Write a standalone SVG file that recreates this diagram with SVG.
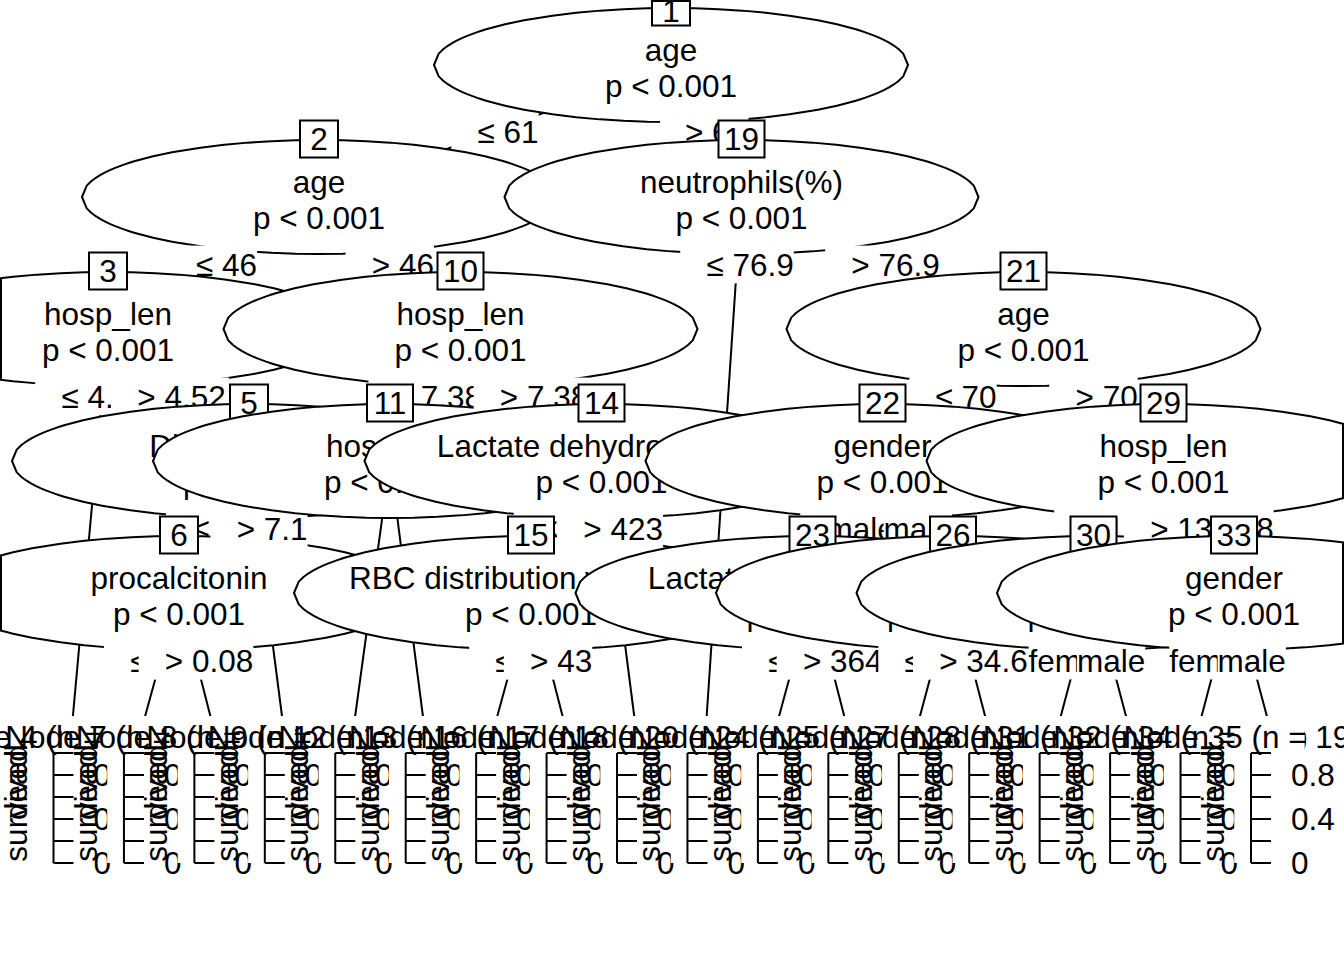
<svg xmlns="http://www.w3.org/2000/svg" xmlns:xlink="http://www.w3.org/1999/xlink" width="1344" height="960" viewBox="0 0 1344 960">
<style>
  text { font-family: "Liberation Sans", Arial, sans-serif; font-size: 31.5px; fill: #000; }
  .mid { text-anchor: middle; }
  .edges line { stroke: #000; stroke-width: 2; }
  .ell { fill: #fff; stroke: #000; stroke-width: 2; vector-effect: non-scaling-stroke; stroke-linejoin: round; }
  .idbox { fill: #fff; stroke: #000; stroke-width: 2; }
  .clipedge { stroke: #000; stroke-width: 2; }
  .edge-label rect { fill: #fff; stroke: none; }
  .panel-bg { fill: #fff; stroke: none; }
  .axis { stroke: #000; stroke-width: 2; fill: none; }
</style>
<defs>
  <!-- split-node outline: sqrt(x(1-x)) sampled finely near the tips, coarsely in the middle -->
  <polygon id="ell" class="ell" points="-1,0 -.98,-.199 -.96,-.28 -.94,-.3412 -.92,-.3919 -.9,-.4359 -.88,-.475 -.86,-.5103 -.84,-.5426 -.82,-.5724 -.8,-.6 -.78,-.6258 -.76,-.6499 -.74,-.6726 -.72,-.694 -.7,-.7141 -.68,-.7332 -.66,-.7513 -.64,-.7684 -.62,-.7846 -.6,-.8 -.5,-.866 -.4,-.9165 -.3,-.9539 -.2,-.9798 -.1,-.995 0,-1 .1,-.995 .2,-.9798 .3,-.9539 .4,-.9165 .5,-.866 .6,-.8 .62,-.7846 .64,-.7684 .66,-.7513 .68,-.7332 .7,-.7141 .72,-.694 .74,-.6726 .76,-.6499 .78,-.6258 .8,-.6 .82,-.5724 .84,-.5426 .86,-.5103 .88,-.475 .9,-.4359 .92,-.3919 .94,-.3412 .96,-.28 .98,-.199 1,0 .98,.199 .96,.28 .94,.3412 .92,.3919 .9,.4359 .88,.475 .86,.5103 .84,.5426 .82,.5724 .8,.6 .78,.6258 .76,.6499 .74,.6726 .72,.694 .7,.7141 .68,.7332 .66,.7513 .64,.7684 .62,.7846 .6,.8 .5,.866 .4,.9165 .3,.9539 .2,.9798 .1,.995 0,1 -.1,.995 -.2,.9798 -.3,.9539 -.4,.9165 -.5,.866 -.6,.8 -.62,.7846 -.64,.7684 -.66,.7513 -.68,.7332 -.7,.7141 -.72,.694 -.74,.6726 -.76,.6499 -.78,.6258 -.8,.6 -.82,.5724 -.84,.5426 -.86,.5103 -.88,.475 -.9,.4359 -.92,.3919 -.94,.3412 -.96,.28 -.98,.199"/>
  <!-- terminal bar panel squeezed to zero width: frame, right axis, tick labels, level names -->
  <g id="plot">
    <path class="axis" d="M0,753V863M0,753h20M0,775h20M0,797h20M0,819h20M0,841h20M0,863h20"/>
    <text x="40" y="786">0.8</text>
    <text x="40" y="830">0.4</text>
    <text x="40" y="874">0</text>
    <text class="mid" transform="translate(-27,803) rotate(-90)">survived</text>
    <text class="mid" transform="translate(-27,785) rotate(-90)">dead</text>
  </g>
</defs>

<rect width="1344" height="960" fill="#fff"/>

<!-- connectors: parent centre to child centre (terminal nodes at y=726) -->
<g id="edges" class="edges">
  <line x1="671" y1="65" x2="319" y2="197"/>
  <line x1="671" y1="65" x2="741.5" y2="197"/>
  <line x1="319" y1="197" x2="108" y2="329"/>
  <line x1="319" y1="197" x2="460.5" y2="329"/>
  <line x1="108" y1="329" x2="72" y2="726"/>
  <line x1="108" y1="329" x2="249" y2="461"/>
  <line x1="249" y1="461" x2="179" y2="593"/>
  <line x1="249" y1="461" x2="283.3" y2="726"/>
  <line x1="179" y1="593" x2="142.4" y2="726"/>
  <line x1="179" y1="593" x2="212.9" y2="726"/>
  <line x1="460.5" y1="329" x2="390" y2="461"/>
  <line x1="460.5" y1="329" x2="601.5" y2="461"/>
  <line x1="390" y1="461" x2="353.8" y2="726"/>
  <line x1="390" y1="461" x2="424.2" y2="726"/>
  <line x1="601.5" y1="461" x2="531" y2="593"/>
  <line x1="601.5" y1="461" x2="635.5" y2="726"/>
  <line x1="531" y1="593" x2="494.6" y2="726"/>
  <line x1="531" y1="593" x2="565.1" y2="726"/>
  <line x1="741.5" y1="197" x2="706" y2="726"/>
  <line x1="741.5" y1="197" x2="1023.5" y2="329"/>
  <line x1="1023.5" y1="329" x2="882.5" y2="461"/>
  <line x1="1023.5" y1="329" x2="1163.5" y2="461"/>
  <line x1="882.5" y1="461" x2="812.5" y2="593"/>
  <line x1="882.5" y1="461" x2="953" y2="593"/>
  <line x1="812.5" y1="593" x2="776.4" y2="726"/>
  <line x1="812.5" y1="593" x2="846.8" y2="726"/>
  <line x1="953" y1="593" x2="917.3" y2="726"/>
  <line x1="953" y1="593" x2="987.7" y2="726"/>
  <line x1="1163.5" y1="461" x2="1093.5" y2="593"/>
  <line x1="1163.5" y1="461" x2="1234" y2="593"/>
  <line x1="1093.5" y1="593" x2="1058.2" y2="726"/>
  <line x1="1093.5" y1="593" x2="1128.6" y2="726"/>
  <line x1="1234" y1="593" x2="1199" y2="726"/>
  <line x1="1234" y1="593" x2="1269.5" y2="726"/>
</g>

<!-- nodes and split labels, painted depth first -->
<g id="node-1">
  <use href="#ell" transform="translate(671 65) scale(237 57)"/>
  <text class="mid" x="671" y="61">age</text>
  <text class="mid" x="671" y="97">p &lt; 0.001</text>
  <rect class="idbox" x="652" y="1" width="38" height="24.5"/>
  <text class="mid" x="671" y="22">1</text>
</g>
<g class="edge-label"><rect x="451.35" y="113.1" width="87.3" height="37.8"/><text class="mid" x="508.1" y="143">≤ 61</text></g>

<g id="node-2">
  <use href="#ell" transform="translate(319 197) scale(237 57)"/>
  <text class="mid" x="319" y="193">age</text>
  <text class="mid" x="319" y="229">p &lt; 0.001</text>
  <rect class="idbox" x="300" y="120.5" width="38" height="37"/>
  <text class="mid" x="319" y="150">2</text>
</g>
<g class="edge-label"><rect x="169.85" y="245.6" width="87.3" height="37.8"/><text class="mid" x="226.6" y="275.5">≤ 46</text></g>

<g id="node-3">
  <use href="#ell" transform="translate(108 329) scale(237 57)"/>
  <line class="clipedge" x1="1" y1="278.4" x2="1" y2="379.6"/>
  <text class="mid" x="108" y="325">hosp_len</text>
  <text class="mid" x="108" y="361">p &lt; 0.001</text>
  <rect class="idbox" x="89" y="252.5" width="38" height="37"/>
  <text class="mid" x="108" y="282">3</text>
</g>
<g class="edge-label"><rect x="35.2" y="377.6" width="113.6" height="37.8"/><text class="mid" x="105.1" y="407.5">≤ 4.52</text></g>

<g id="node-4" class="terminal">
  <rect class="panel-bg" x="36.78" y="716" width="70.44" height="147"/>
  <text class="mid" x="53.5" y="748">Node 4 (n = 112)</text>
  <use href="#plot" x="53.5"/>
</g>
<g class="edge-label"><rect x="111.15" y="377.6" width="118" height="37.8"/><text class="mid" x="181.6" y="407.5">&gt; 4.52</text></g>

<g id="node-5">
  <use href="#ell" transform="translate(249 461) scale(237 57)"/>
  <text class="mid" x="249" y="457">Direct bilirubin</text>
  <text class="mid" x="249" y="493">p &lt; 0.001</text>
  <rect class="idbox" x="230" y="384.5" width="38" height="37"/>
  <text class="mid" x="249" y="414">5</text>
</g>
<g class="edge-label"><rect x="165.95" y="509.6" width="96.1" height="37.8"/><text class="mid" x="227.1" y="539.5">≤ 7.1</text></g>

<g id="node-6">
  <use href="#ell" transform="translate(179 593) scale(237 57)"/>
  <line class="clipedge" x1="1" y1="555.7" x2="1" y2="630.3"/>
  <text class="mid" x="179" y="589">procalcitonin</text>
  <text class="mid" x="179" y="625">p &lt; 0.001</text>
  <rect class="idbox" x="160" y="516.5" width="38" height="37"/>
  <text class="mid" x="179" y="546">6</text>
</g>
<g class="edge-label"><rect x="103.95" y="641.6" width="113.6" height="37.8"/><text class="mid" x="173.85" y="671.5">≤ 0.08</text></g>

<g id="node-7" class="terminal">
  <rect class="panel-bg" x="107.22" y="716" width="70.44" height="147"/>
  <text class="mid" x="123.94" y="748">Node 7 (n = 145)</text>
  <use href="#plot" x="123.94"/>
</g>
<g class="edge-label"><rect x="138.65" y="641.6" width="114.7" height="37.8"/><text class="mid" x="209.1" y="671.5">&gt; 0.08</text></g>

<g id="node-8" class="terminal">
  <rect class="panel-bg" x="177.66" y="716" width="70.44" height="147"/>
  <text class="mid" x="194.38" y="748">Node 8 (n = 101)</text>
  <use href="#plot" x="194.38"/>
</g>
<g class="edge-label"><rect x="210.4" y="509.6" width="97.2" height="37.8"/><text class="mid" x="272.1" y="539.5">&gt; 7.1</text></g>

<g id="node-9" class="terminal">
  <rect class="panel-bg" x="248.1" y="716" width="70.44" height="147"/>
  <text class="mid" x="264.82" y="748">Node 9 (n = 206)</text>
  <use href="#plot" x="264.82"/>
</g>
<g class="edge-label"><rect x="345.5" y="245.6" width="88.5" height="37.8"/><text class="mid" x="402.85" y="275.5">&gt; 46</text></g>

<g id="node-10">
  <use href="#ell" transform="translate(460.5 329) scale(237 57)"/>
  <text class="mid" x="460.5" y="325">hosp_len</text>
  <text class="mid" x="460.5" y="361">p &lt; 0.001</text>
  <rect class="idbox" x="437.5" y="252.5" width="46" height="37"/>
  <text class="mid" x="460.5" y="282">10</text>
</g>
<g class="edge-label"><rect x="368.45" y="377.6" width="113.6" height="37.8"/><text class="mid" x="438.35" y="407.5">≤ 7.38</text></g>

<g id="node-11">
  <use href="#ell" transform="translate(390 461) scale(237 57)"/>
  <text class="mid" x="390" y="457">hosp_len</text>
  <text class="mid" x="390" y="493">p &lt; 0.001</text>
  <rect class="idbox" x="367" y="384.5" width="46" height="37"/>
  <text class="mid" x="390" y="414">11</text>
</g>

<g id="node-12" class="terminal">
  <rect class="panel-bg" x="318.54" y="716" width="70.44" height="147"/>
  <text class="mid" x="335.26" y="748">Node 12 (n = 133)</text>
  <use href="#plot" x="335.26"/>
</g>
<g id="node-13" class="terminal">
  <rect class="panel-bg" x="388.98" y="716" width="70.44" height="147"/>
  <text class="mid" x="405.7" y="748">Node 13 (n = 178)</text>
  <use href="#plot" x="405.7"/>
</g>
<g class="edge-label"><rect x="473.65" y="377.6" width="114.7" height="37.8"/><text class="mid" x="544.1" y="407.5">&gt; 7.38</text></g>

<g id="node-14">
  <use href="#ell" transform="translate(601.5 461) scale(237 57)"/>
  <text class="mid" x="601.5" y="457">Lactate dehydrogenase</text>
  <text class="mid" x="601.5" y="493">p &lt; 0.001</text>
  <rect class="idbox" x="578.5" y="384.5" width="46" height="37"/>
  <text class="mid" x="601.5" y="414">14</text>
</g>
<g class="edge-label"><rect x="513.8" y="509.6" width="104.9" height="37.8"/><text class="mid" x="579.35" y="539.5">≤ 423</text></g>

<g id="node-15">
  <use href="#ell" transform="translate(531 593) scale(237 57)"/>
  <text class="mid" x="531" y="589">RBC distribution width-SD</text>
  <text class="mid" x="531" y="625">p &lt; 0.001</text>
  <rect class="idbox" x="508" y="516.5" width="46" height="37"/>
  <text class="mid" x="531" y="546">15</text>
</g>
<g class="edge-label"><rect x="469.15" y="641.6" width="87.3" height="37.8"/><text class="mid" x="525.9" y="671.5">≤ 43</text></g>

<g id="node-16" class="terminal">
  <rect class="panel-bg" x="459.42" y="716" width="70.44" height="147"/>
  <text class="mid" x="476.14" y="748">Node 16 (n = 122)</text>
  <use href="#plot" x="476.14"/>
</g>
<g class="edge-label"><rect x="503.8" y="641.6" width="88.5" height="37.8"/><text class="mid" x="561.15" y="671.5">&gt; 43</text></g>

<g id="node-17" class="terminal">
  <rect class="panel-bg" x="529.86" y="716" width="70.44" height="147"/>
  <text class="mid" x="546.58" y="748">Node 17 (n = 119)</text>
  <use href="#plot" x="546.58"/>
</g>
<g class="edge-label"><rect x="557.1" y="509.6" width="106" height="37.8"/><text class="mid" x="623.2" y="539.5">&gt; 423</text></g>

<g id="node-18" class="terminal">
  <rect class="panel-bg" x="600.3" y="716" width="70.44" height="147"/>
  <text class="mid" x="617.02" y="748">Node 18 (n = 140)</text>
  <use href="#plot" x="617.02"/>
</g>
<g class="edge-label"><rect x="660" y="113.1" width="88.5" height="37.8"/><text class="mid" x="716" y="143">&gt; 61</text></g>

<g id="node-19">
  <use href="#ell" transform="translate(741.5 197) scale(237 57)"/>
  <text class="mid" x="741.5" y="193">neutrophils(%)</text>
  <text class="mid" x="741.5" y="229">p &lt; 0.001</text>
  <rect class="idbox" x="718.5" y="120.5" width="46" height="37"/>
  <text class="mid" x="741.5" y="150">19</text>
</g>
<g class="edge-label"><rect x="680.2" y="245.6" width="113.6" height="37.8"/><text class="mid" x="750.1" y="275.5">≤ 76.9</text></g>

<g id="node-20" class="terminal">
  <rect class="panel-bg" x="670.74" y="716" width="70.44" height="147"/>
  <text class="mid" x="687.46" y="748">Node 20 (n = 163)</text>
  <use href="#plot" x="687.46"/>
</g>
<g class="edge-label"><rect x="825.15" y="245.6" width="114.7" height="37.8"/><text class="mid" x="895.6" y="275.5">&gt; 76.9</text></g>

<g id="node-21">
  <use href="#ell" transform="translate(1023.5 329) scale(237 57)"/>
  <text class="mid" x="1023.5" y="325">age</text>
  <text class="mid" x="1023.5" y="361">p &lt; 0.001</text>
  <rect class="idbox" x="1000.5" y="252.5" width="46" height="37"/>
  <text class="mid" x="1023.5" y="282">21</text>
</g>
<g class="edge-label"><rect x="909.35" y="377.6" width="87.3" height="37.8"/><text class="mid" x="966.1" y="407.5">≤ 70</text></g>

<g id="node-22">
  <use href="#ell" transform="translate(882.5 461) scale(237 57)"/>
  <text class="mid" x="882.5" y="457">gender</text>
  <text class="mid" x="882.5" y="493">p &lt; 0.001</text>
  <rect class="idbox" x="859.5" y="384.5" width="46" height="37"/>
  <text class="mid" x="882.5" y="414">22</text>
</g>
<g class="edge-label"><rect x="800.25" y="509.6" width="94.5" height="37.8"/><text class="mid" x="847.5" y="539.5">female</text></g>

<g id="node-23">
  <use href="#ell" transform="translate(812.5 593) scale(237 57)"/>
  <text class="mid" x="812.5" y="589">Lactate dehydrogenase</text>
  <text class="mid" x="812.5" y="625">p &lt; 0.001</text>
  <rect class="idbox" x="789.5" y="516.5" width="46" height="37"/>
  <text class="mid" x="812.5" y="546">23</text>
</g>
<g class="edge-label"><rect x="742" y="641.6" width="104.9" height="37.8"/><text class="mid" x="807.55" y="671.5">≤ 364</text></g>

<g id="node-24" class="terminal">
  <rect class="panel-bg" x="741.18" y="716" width="70.44" height="147"/>
  <text class="mid" x="757.9" y="748">Node 24 (n = 105)</text>
  <use href="#plot" x="757.9"/>
</g>
<g class="edge-label"><rect x="776.65" y="641.6" width="106" height="37.8"/><text class="mid" x="842.75" y="671.5">&gt; 364</text></g>

<g id="node-25" class="terminal">
  <rect class="panel-bg" x="811.62" y="716" width="70.44" height="147"/>
  <text class="mid" x="828.34" y="748">Node 25 (n = 127)</text>
  <use href="#plot" x="828.34"/>
</g>
<g class="edge-label"><rect x="883.6" y="509.6" width="68.3" height="37.8"/><text class="mid" x="917.75" y="539.5">male</text></g>

<g id="node-26">
  <use href="#ell" transform="translate(953 593) scale(237 57)"/>
  <text class="mid" x="953" y="625">p &lt; 0.001</text>
  <rect class="idbox" x="930" y="516.5" width="46" height="37"/>
  <text class="mid" x="953" y="546">26</text>
</g>
<g class="edge-label"><rect x="878.35" y="641.6" width="113.6" height="37.8"/><text class="mid" x="948.25" y="671.5">≤ 34.6</text></g>

<g id="node-27" class="terminal">
  <rect class="panel-bg" x="882.06" y="716" width="70.44" height="147"/>
  <text class="mid" x="898.78" y="748">Node 27 (n = 188)</text>
  <use href="#plot" x="898.78"/>
</g>
<g class="edge-label"><rect x="913" y="641.6" width="114.7" height="37.8"/><text class="mid" x="983.45" y="671.5">&gt; 34.6</text></g>

<g id="node-28" class="terminal">
  <rect class="panel-bg" x="952.5" y="716" width="70.44" height="147"/>
  <text class="mid" x="969.22" y="748">Node 28 (n = 150)</text>
  <use href="#plot" x="969.22"/>
</g>
<g class="edge-label"><rect x="1049.25" y="377.6" width="88.5" height="37.8"/><text class="mid" x="1106.6" y="407.5">&gt; 70</text></g>

<g id="node-29">
  <use href="#ell" transform="translate(1163.5 461) scale(237 57)"/>
  <line class="clipedge" x1="1343" y1="424.1" x2="1343" y2="497.9"/>
  <text class="mid" x="1163.5" y="457">hosp_len</text>
  <text class="mid" x="1163.5" y="493">p &lt; 0.001</text>
  <rect class="idbox" x="1140.5" y="384.5" width="46" height="37"/>
  <text class="mid" x="1163.5" y="414">29</text>
</g>
<g class="edge-label"><rect x="1054.2" y="509.6" width="148.6" height="37.8"/><text x="1080.5" y="539.5">≤ 13.458</text></g>

<g id="node-30">
  <use href="#ell" transform="translate(1093.5 593) scale(237 57)"/>
  <text class="mid" x="1093.5" y="589">gender</text>
  <text class="mid" x="1093.5" y="625">p &lt; 0.001</text>
  <rect class="idbox" x="1070.5" y="516.5" width="46" height="37"/>
  <text class="mid" x="1093.5" y="546">30</text>
</g>
<g class="edge-label"><rect x="1028.6" y="641.6" width="94.5" height="37.8"/><text class="mid" x="1075.85" y="671.5">female</text></g>

<g id="node-31" class="terminal">
  <rect class="panel-bg" x="1022.94" y="716" width="70.44" height="147"/>
  <text class="mid" x="1039.66" y="748">Node 31 (n = 134)</text>
  <use href="#plot" x="1039.66"/>
</g>
<g class="edge-label"><rect x="1076.9" y="641.6" width="68.3" height="37.8"/><text class="mid" x="1111.05" y="671.5">male</text></g>

<g id="node-32" class="terminal">
  <rect class="panel-bg" x="1093.38" y="716" width="70.44" height="147"/>
  <text class="mid" x="1110.1" y="748">Node 32 (n = 176)</text>
  <use href="#plot" x="1110.1"/>
</g>
<g class="edge-label"><rect x="1123.9" y="509.6" width="149.75" height="37.8"/><text x="1150.2" y="539.5">&gt; 13.458</text></g>

<g id="node-33">
  <use href="#ell" transform="translate(1234 593) scale(237 57)"/>
  <line class="clipedge" x1="1343" y1="542.6" x2="1343" y2="643.4"/>
  <text class="mid" x="1234" y="589">gender</text>
  <text class="mid" x="1234" y="625">p &lt; 0.001</text>
  <rect class="idbox" x="1211" y="516.5" width="46" height="37"/>
  <text class="mid" x="1234" y="546">33</text>
</g>
<g class="edge-label"><rect x="1169.25" y="641.6" width="94.5" height="37.8"/><text class="mid" x="1216.5" y="671.5">female</text></g>

<g id="node-34" class="terminal">
  <rect class="panel-bg" x="1163.82" y="716" width="70.44" height="147"/>
  <text class="mid" x="1180.54" y="748">Node 34 (n = 142)</text>
  <use href="#plot" x="1180.54"/>
</g>
<g class="edge-label"><rect x="1217.6" y="641.6" width="68.3" height="37.8"/><text class="mid" x="1251.75" y="671.5">male</text></g>

<g id="node-35" class="terminal">
  <rect class="panel-bg" x="1234.26" y="716" width="70.44" height="147"/>
  <text class="mid" x="1250.98" y="748">Node 35 (n = 193)</text>
  <use href="#plot" x="1250.98"/>
</g>
</svg>
